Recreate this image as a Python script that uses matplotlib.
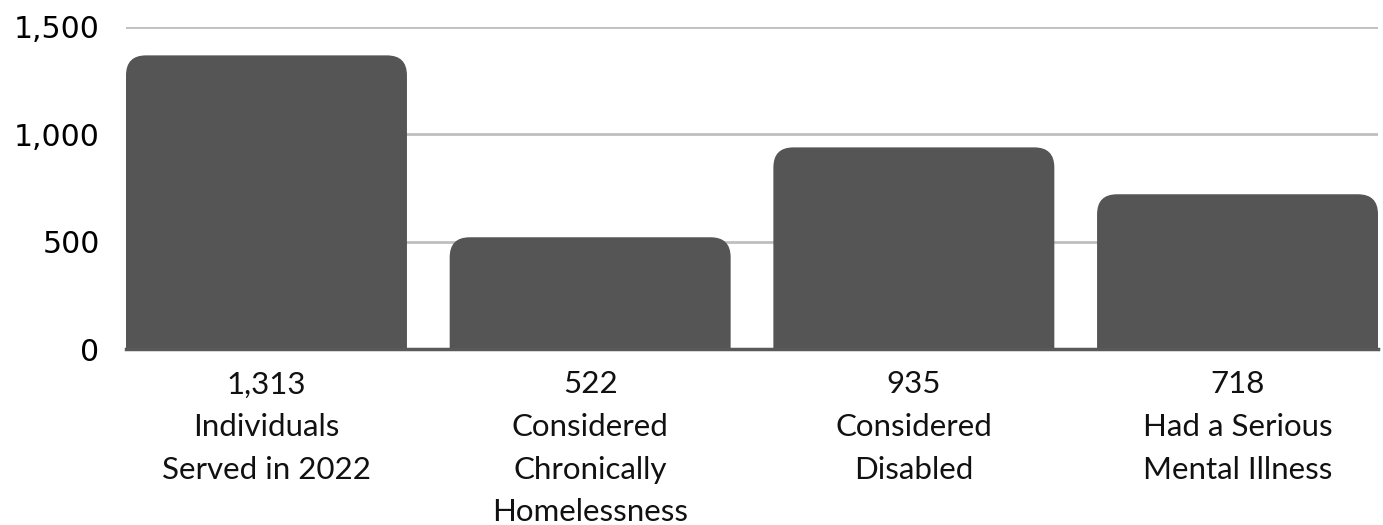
import matplotlib.pyplot as plt
from matplotlib.patches import FancyBboxPatch
from matplotlib.ticker import FuncFormatter

categories = [
    "1,313\nIndividuals\nServed in 2022",
    "522\nConsidered\nChronically\nHomelessness",
    "935\nConsidered\nDisabled",
    "718\nHad a Serious\nMental Illness",
]
# bar heights as drawn in the picture
values = [1368, 522, 940, 722]
y_ticks = [0, 500, 1000, 1500]

bar_color = "#555555"
grid_color = "#bfbfbf"

fig = plt.figure(figsize=(13.83, 5.25), dpi=100)
ax = fig.add_axes([0.0911, 0.3343, 0.9053, 0.6143])

width = 0.868
x = list(range(len(categories)))
bars = ax.bar(x, values, width=width, color=bar_color, zorder=3)

ax.set_xlim(-width / 2, len(categories) - 1 + width / 2)
ax.set_ylim(0, 1500)
fig.canvas.draw()

# replace square bars with rounded-top ones
bb = ax.get_window_extent()
px_per_x = bb.width / (ax.get_xlim()[1] - ax.get_xlim()[0])
px_per_y = bb.height / (ax.get_ylim()[1] - ax.get_ylim()[0])
radius_px = 20
for b in bars:
    b.set_visible(False)
    r = radius_px / px_per_x
    patch = FancyBboxPatch(
        (b.get_x(), -200), b.get_width(), b.get_height() + 200,
        boxstyle=f"round,pad=0,rounding_size={r}",
        mutation_aspect=px_per_x / px_per_y,
        facecolor=bar_color, edgecolor="none", zorder=3,
    )
    ax.add_patch(patch)

ax.set_yticks(y_ticks)
ax.yaxis.set_major_formatter(FuncFormatter(lambda v, p: f"{int(v):,}"))
ax.set_xticks(x)
ax.set_xticklabels(categories, fontsize=22.5, family="Lato", fontweight="normal",
                   linespacing=1.64)
for lab in ax.get_yticklabels():
    lab.set_fontsize(21.5)
    lab.set_family("DejaVu Sans")

ax.tick_params(axis="y", length=0, pad=19, colors="black")
ax.tick_params(axis="x", length=0, pad=15, colors="#111111")
ax.grid(axis="y", color=grid_color, linewidth=2, zorder=0)
for s in ["top", "right", "left"]:
    ax.spines[s].set_visible(False)
ax.spines["bottom"].set_color("#595959")
ax.spines["bottom"].set_linewidth(2.5)
ax.spines["bottom"].set_zorder(4)

plt.savefig("out.png", dpi=100)
